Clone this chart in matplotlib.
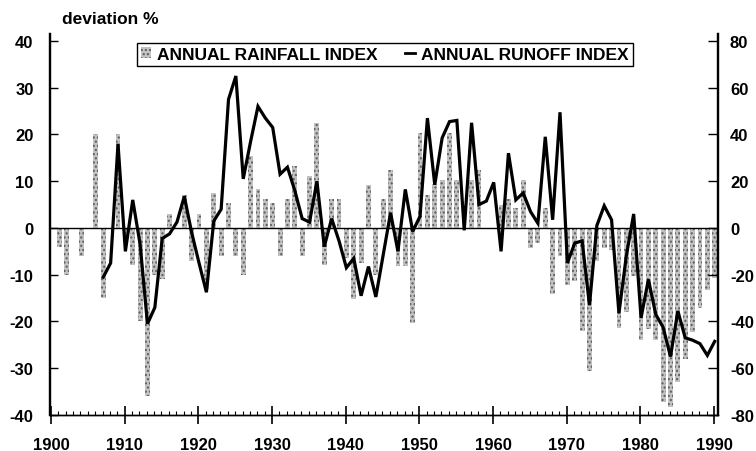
import matplotlib
matplotlib.use("Agg")
import matplotlib.pyplot as plt
from matplotlib.patches import Patch
from matplotlib.lines import Line2D
from matplotlib.ticker import MultipleLocator

plt.rcParams['font.family'] = ['Liberation Sans', 'DejaVu Sans']
plt.rcParams['font.weight'] = 'bold'
plt.rcParams['hatch.linewidth'] = 1.0

# Annual rainfall index, deviation % (left axis)
rain_years = list(range(1900, 1991))
rain_index = [
    0, -4, -10, 0, -6, 0, 20, -15, 0, 20,            # 1900-1909
    -3, -8, -20, -36, -10, -11, 3, 0, 7, -7,          # 1910-1919
    3, -13, 7.4, -6, 5.3, -6, -10, 15.4, 8.3, 6.3,    # 1920-1929
    5.3, -6, 6.3, 13.3, -6, 11.2, 22.5, -8, 6.2, 6.2, # 1930-1939
    -6.4, -15.2, -7.5, 9.2, -10, 6.2, 12.4, -8.2, -8.2, -20.3,  # 1940-1949
    20.4, 7.1, 9.5, 10.2, 20.4, 10.2, 0, 10.3, 12.4, 0,         # 1950-1959
    0, 5, 6.2, 4.2, 10.2, -4.2, -3.2, 4.2, -14.2, -6,           # 1960-1969
    -12.2, -11.4, -22, -30.5, -7, -4.3, -4.7, -21.3, -18, -10.2,  # 1970-1979
    -24, -21.5, -24, -37.2, -38.2, -33, -28, -22.3, -17.2, -13.2,  # 1980-1989
    -10.7,                                                       # 1990
]

# Annual runoff index, deviation % (right axis)
runoff_years = list(range(1907, 1991))
runoff_index = [
    -21, -15, 36,                                          # 1907-1909
    -10, 12, -7, -41, -34, -4.5, -2.5, 2.5, 13.5, -2,      # 1910-1919
    -15, -27.5, 3, 8, 55, 65, 21, 37, 52, 47,              # 1920-1929
    43, 23, 26, 16, 4, 2.5, 20, -8, 4, -5.5,               # 1930-1939
    -17, -13, -29, -16.5, -29.5, -11.5, 6.5, -10, 16.5, -1.5,  # 1940-1949
    5, 47, 18.5, 38.5, 45.5, 46, -1, 45, 10, 11.5,         # 1950-1959
    19.5, -10, 32, 12, 15, 7, 2, 39, 3.5, 49.5,            # 1960-1969
    -15, -6.5, -5.5, -33, 1, 9.5, 3.5, -36.5, -12, 6,      # 1970-1979
    -38.5, -22, -37, -42.5, -55, -35.5, -47, -48, -49.5, -54.5,  # 1980-1989
    -48.5,                                                 # 1990
]

left_ticks = [-40, -30, -20, -10, 0, 10, 20, 30, 40]
right_ticks = [-80, -60, -40, -20, 0, 20, 40, 60, 80]
decade_ticks = list(range(1900, 1991, 10))

shift = 0.1  # marks sit slightly right of the year tick

fig = plt.figure(figsize=(7.56, 4.52), dpi=100)
ax = fig.add_axes([49.5 / 756, 36 / 452, 668 / 756, 382 / 452])
ax2 = ax.twinx()

bar_fill = '#c2c2c2'
bar_dots = '#5a5a5a'
ax.bar([y + shift for y in rain_years], rain_index, width=0.66,
       facecolor=bar_fill, edgecolor=bar_dots, linewidth=0, hatch='....',
       zorder=2)
ax.axhline(0, color='black', linewidth=1.0, zorder=3)

ax2.plot([y + shift for y in runoff_years], runoff_index, color='black',
         linewidth=2.3, solid_joinstyle='miter', zorder=4)

ax.set_xlim(1899.8, 1990.48)
ax.set_ylim(-40, 41.7)
ax2.set_ylim(-80, 83.4)

ax.set_xticks(decade_ticks)
ax.set_xticklabels([str(d) for d in decade_ticks])
ax.xaxis.set_minor_locator(MultipleLocator(1))
ax.set_yticks(left_ticks)
ax.set_yticklabels([str(t) for t in left_ticks])
ax2.set_yticks(right_ticks)
ax2.set_yticklabels([str(t) for t in right_ticks])

for a in (ax, ax2):
    a.spines['top'].set_visible(False)
    for s in ('left', 'right', 'bottom'):
        a.spines[s].set_linewidth(1.0)

ax.tick_params(axis='x', which='major', direction='inout', length=13,
               width=1.2, pad=9.5, labelsize=12)
ax.tick_params(axis='x', which='minor', direction='in', length=3.2, width=0.8)
ax.tick_params(axis='y', which='major', direction='in', length=6, width=1.0,
               pad=11.5, labelsize=12, right=False)
ax2.tick_params(axis='y', which='major', direction='in', length=6.5,
                width=1.0, pad=9, labelsize=12)

for lab in ax.get_xticklabels() + ax.get_yticklabels() + ax2.get_yticklabels():
    lab.set_fontweight('bold')

fig.text(62 / 756, 1 - 20 / 452, 'deviation %', fontsize=12.5,
         fontweight='bold', va='center', ha='left')

handles = [
    Patch(facecolor=bar_fill, edgecolor=bar_dots, linewidth=0, hatch='....'),
    Line2D([], [], color='black', linewidth=2.0),
]
labels = ['ANNUAL RAINFALL INDEX', 'ANNUAL RUNOFF INDEX']
leg = ax2.legend(handles, labels, loc='upper left',
                 bbox_to_anchor=(0.131, 0.974), borderaxespad=0, ncol=2,
                 frameon=True, fancybox=False, framealpha=1,
                 edgecolor='black', borderpad=0.22, handlelength=0.6,
                 handleheight=0.55, handletextpad=0.35, columnspacing=1.55,
                 prop={'family': 'Liberation Sans', 'weight': 'bold',
                       'size': 12.5})
leg.get_frame().set_linewidth(1.0)
leg.set_zorder(10)

fig.savefig('out.png', dpi=100)
